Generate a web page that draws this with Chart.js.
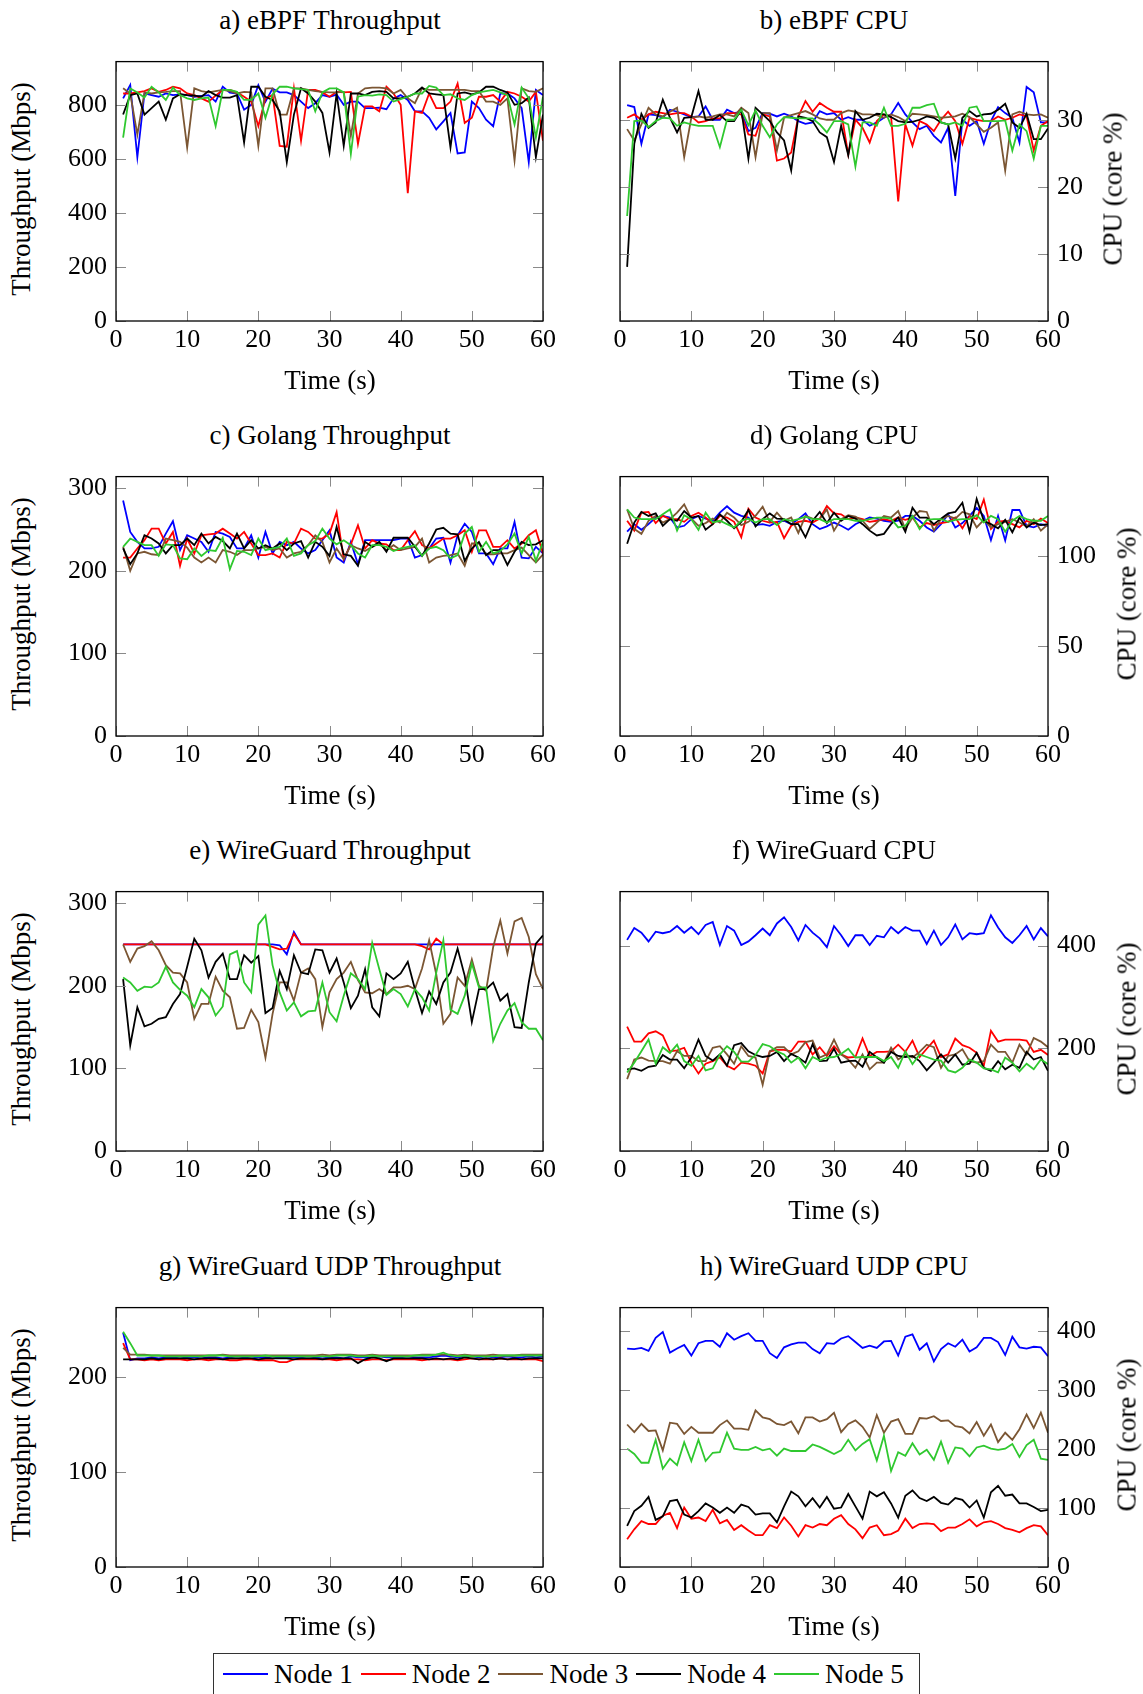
<!DOCTYPE html>
<html>
<head>
<meta charset="utf-8">
<script src="https://cdn.jsdelivr.net/npm/chart.js@4.4.0/dist/chart.umd.min.js"></script>
<style>
    body {
        margin: 0;
        width: 1143px;
        height: 1694px;
        position: relative;
        overflow: hidden;
        background: #fff;
        font-family: "Liberation Serif", "Times New Roman", serif;
        color: #000;
    }
    .panel { position: absolute; }
    .txt {
        position: absolute;
        font-size: 27px;
        line-height: 27px;
        white-space: nowrap;
        transform: translate(-50%, -50%);
    }
    .rot { transform: translate(-50%, -50%) rotate(-90deg); }
    #legend {
        position: absolute;
        left: 213px;
        top: 1653px;
        width: 707px;
        height: 42px;
        box-sizing: border-box;
        border: 1px solid #333;
        display: flex;
        align-items: center;
        padding-left: 9px;
        font-size: 27px;
    }
    #legend .sw { display: inline-block; width: 45px; height: 2px; margin-right: 6px; }
    #legend .lt { margin-right: 8px; }
</style>
</head>
<body>
<div id="legend"></div>
<script>
const NODES = ['Node 1', 'Node 2', 'Node 3', 'Node 4', 'Node 5'];
const COLORS = ['#0000ff', '#ff0000', '#7b5633', '#000000', '#2fc82f'];

const TIME = [1, 2, 3, 4, 5, 6, 7, 8, 9, 10, 11, 12, 13, 14, 15, 16, 17, 18, 19, 20,
    21, 22, 23, 24, 25, 26, 27, 28, 29, 30, 31, 32, 33, 34, 35, 36, 37, 38, 39, 40,
    41, 42, 43, 44, 45, 46, 47, 48, 49, 50, 51, 52, 53, 54, 55, 56, 57, 58, 59, 60];
const X_TICKS = [0, 10, 20, 30, 40, 50, 60];

// y tick labels per panel
const THR_TICKS_A = [0, 200, 400, 600, 800];
const CPU_TICKS_B = [0, 10, 20, 30];
const THR_TICKS_C = [0, 100, 200, 300];
const CPU_TICKS_D = [0, 50, 100];
const THR_TICKS_E = [0, 100, 200, 300];
const CPU_TICKS_F = [0, 200, 400];
const THR_TICKS_G = [0, 100, 200];
const CPU_TICKS_H = [0, 100, 200, 300, 400];

// a) eBPF throughput (Mbps)
const A_N1 = [824, 873, 606, 842, 836, 830, 842, 836, 839, 836, 830, 833, 836, 812, 867, 845, 842, 782, 800, 873, 812, 860, 846, 846, 836, 812, 788, 806, 836, 830, 838, 800, 812, 812, 788, 788, 790, 784, 824, 836, 818, 776, 776, 752, 709, 739, 770, 620, 624, 812, 788, 745, 721, 842, 842, 824, 788, 588, 855, 836];
const A_N2 = [842, 842, 846, 851, 861, 848, 855, 867, 861, 842, 836, 824, 812, 834, 855, 855, 846, 830, 812, 721, 824, 836, 648, 645, 861, 667, 855, 855, 846, 830, 848, 846, 848, 655, 794, 794, 776, 867, 842, 800, 473, 776, 770, 842, 788, 788, 812, 879, 733, 752, 830, 830, 836, 812, 848, 842, 830, 812, 848, 667];
const A_N3 = [861, 842, 690, 846, 842, 846, 848, 851, 851, 642, 861, 851, 846, 851, 855, 851, 842, 848, 846, 648, 861, 861, 764, 764, 861, 861, 855, 851, 848, 846, 846, 848, 685, 842, 861, 864, 864, 861, 842, 855, 824, 806, 861, 855, 855, 855, 855, 855, 855, 851, 851, 812, 812, 800, 824, 594, 861, 851, 848, 861];
const A_N4 = [764, 836, 842, 764, 788, 812, 745, 824, 839, 836, 834, 830, 851, 836, 827, 827, 836, 661, 867, 867, 830, 818, 776, 588, 764, 861, 842, 812, 770, 624, 842, 648, 842, 842, 836, 848, 851, 848, 824, 824, 830, 842, 864, 842, 839, 836, 642, 842, 846, 839, 846, 867, 867, 855, 846, 800, 806, 827, 606, 764];
const A_N5 = [679, 861, 846, 827, 867, 846, 818, 864, 836, 824, 818, 824, 827, 721, 855, 855, 848, 818, 818, 842, 752, 839, 867, 867, 861, 858, 855, 776, 846, 861, 861, 846, 618, 830, 836, 834, 839, 836, 812, 821, 830, 842, 842, 870, 864, 836, 839, 824, 818, 836, 846, 851, 855, 846, 836, 727, 864, 824, 679, 830];

// b) eBPF CPU (core %)
const B_N1 = [32.3, 32.0, 26.5, 30.9, 30.8, 30.4, 31.6, 31.3, 30.9, 30.5, 30.6, 32.1, 30.1, 30.1, 31.6, 31.1, 31.3, 28.4, 28.9, 31.1, 31.0, 30.6, 31.0, 30.6, 29.9, 29.5, 29.7, 31.4, 30.9, 31.1, 30.1, 30.5, 30.1, 30.1, 29.2, 29.7, 30.4, 30.9, 32.6, 30.9, 29.7, 28.7, 29.2, 27.7, 26.7, 28.9, 18.7, 30.1, 29.2, 29.9, 26.5, 29.9, 32.0, 31.1, 30.4, 26.7, 35.0, 34.2, 29.7, 29.7];
const B_N2 = [30.4, 30.9, 30.1, 30.9, 31.3, 31.1, 30.9, 31.1, 31.1, 30.6, 29.7, 29.9, 30.3, 30.3, 31.1, 31.1, 30.9, 27.9, 27.7, 30.9, 30.6, 24.0, 24.3, 25.2, 30.6, 32.9, 31.3, 32.6, 31.9, 31.3, 31.3, 24.9, 30.1, 28.9, 26.7, 29.9, 30.9, 30.6, 17.9, 29.4, 26.2, 29.9, 29.4, 28.4, 30.1, 31.3, 29.9, 26.5, 30.4, 30.1, 29.9, 29.9, 30.6, 30.1, 30.4, 30.9, 30.6, 25.5, 29.2, 29.9];
const B_N3 = [28.7, 27.0, 29.4, 31.9, 30.9, 30.6, 31.3, 31.9, 24.5, 30.4, 30.6, 30.4, 30.6, 30.9, 30.9, 30.6, 31.9, 31.1, 24.5, 31.1, 31.1, 25.5, 30.4, 30.8, 31.1, 31.4, 30.9, 30.3, 30.1, 30.1, 31.1, 31.5, 31.3, 30.9, 30.9, 30.8, 30.4, 30.9, 30.5, 29.9, 31.0, 30.9, 30.8, 30.6, 30.4, 30.5, 30.6, 31.0, 30.5, 29.4, 28.3, 28.9, 29.7, 22.5, 30.9, 31.3, 30.9, 30.8, 30.9, 30.4];
const B_N4 = [8.1, 26.5, 31.0, 28.9, 29.7, 33.1, 30.4, 28.2, 30.4, 30.5, 34.4, 30.1, 30.1, 30.8, 29.9, 29.9, 31.6, 24.3, 31.9, 30.9, 29.9, 28.2, 27.0, 22.5, 30.6, 30.4, 29.9, 28.2, 27.5, 23.8, 29.2, 24.8, 31.4, 30.1, 30.4, 31.0, 30.9, 30.5, 29.9, 29.7, 29.8, 30.1, 30.6, 30.4, 29.7, 29.4, 24.3, 30.4, 31.4, 30.6, 30.9, 31.0, 31.6, 32.5, 29.7, 28.9, 31.0, 27.2, 27.2, 28.8];
const B_N5 = [15.7, 29.9, 30.0, 29.0, 29.9, 30.4, 30.3, 29.2, 29.7, 29.4, 29.2, 29.2, 29.2, 26.0, 30.1, 30.1, 31.6, 29.3, 31.5, 29.2, 27.5, 29.4, 30.5, 30.4, 30.3, 30.3, 30.3, 29.4, 28.2, 29.9, 29.9, 29.4, 23.1, 29.7, 29.7, 29.2, 31.9, 29.2, 29.2, 29.5, 31.9, 31.9, 32.3, 32.5, 29.7, 29.4, 29.7, 29.2, 31.9, 32.1, 29.9, 29.9, 29.9, 30.0, 25.5, 29.4, 28.4, 24.3, 29.2, 29.2];

// c) Golang throughput (Mbps)
const C_N1 = [285, 247, 235, 227, 227, 229, 245, 260, 225, 243, 239, 235, 223, 247, 245, 241, 227, 227, 243, 216, 247, 221, 235, 231, 235, 227, 221, 225, 237, 249, 216, 210, 235, 208, 237, 237, 237, 237, 237, 239, 239, 216, 219, 227, 239, 240, 210, 243, 257, 247, 221, 221, 208, 227, 227, 259, 216, 215, 229, 221];
const C_N2 = [216, 216, 227, 237, 251, 251, 233, 247, 206, 239, 221, 243, 244, 245, 251, 245, 239, 247, 233, 219, 219, 221, 216, 235, 233, 251, 247, 239, 239, 245, 271, 214, 232, 255, 227, 237, 233, 232, 225, 225, 237, 248, 231, 227, 233, 239, 239, 243, 249, 223, 249, 249, 229, 229, 237, 227, 233, 243, 249, 221];
const C_N3 = [229, 200, 221, 223, 220, 219, 239, 237, 235, 228, 216, 210, 216, 210, 225, 223, 219, 225, 225, 227, 229, 225, 227, 216, 221, 223, 231, 243, 235, 210, 227, 214, 231, 227, 224, 229, 233, 225, 231, 225, 227, 229, 239, 210, 216, 218, 219, 221, 206, 233, 233, 220, 220, 221, 221, 225, 228, 219, 210, 220];
const C_N4 = [227, 208, 221, 243, 239, 233, 221, 231, 231, 239, 231, 245, 233, 241, 236, 227, 245, 227, 237, 227, 231, 227, 233, 225, 233, 236, 216, 235, 229, 218, 253, 220, 218, 206, 235, 229, 235, 223, 240, 240, 240, 229, 218, 233, 250, 252, 245, 244, 212, 227, 235, 219, 225, 225, 207, 223, 235, 231, 232, 237];
const C_N5 = [229, 239, 235, 231, 231, 218, 232, 231, 215, 214, 227, 218, 225, 224, 240, 202, 224, 223, 219, 239, 225, 227, 229, 239, 218, 221, 231, 236, 251, 239, 232, 237, 231, 221, 216, 231, 231, 229, 224, 227, 229, 231, 218, 227, 229, 225, 215, 219, 245, 253, 223, 235, 221, 224, 232, 245, 221, 241, 212, 235];

// d) Golang CPU (core %)
const D_N1 = [113.8, 118, 114.9, 118, 121.7, 122.6, 121.7, 116.2, 117.1, 120.8, 122.6, 121.1, 119.9, 124.4, 128, 124.4, 122.6, 121.7, 117.5, 118, 117.1, 119.3, 119.9, 118, 120.8, 124, 118, 115.3, 116.8, 118.9, 117.1, 114.9, 118, 119.9, 121.7, 121.1, 119.9, 119.3, 119.9, 122.6, 122.6, 119.9, 116.2, 113.8, 118, 123.5, 116.2, 118.6, 122.6, 127.1, 122.6, 109.1, 122.6, 108.9, 125.9, 125.9, 117.1, 116.2, 118, 117.1];
const D_N2 = [119.9, 114.4, 124.4, 124.8, 118.6, 122.6, 120.8, 120.8, 119.3, 122.6, 124.4, 121.7, 118, 122.6, 121.7, 119.3, 110.7, 126.6, 121.7, 119.9, 118.9, 119.3, 110.2, 117.1, 119.3, 119.9, 118.9, 121.1, 128.1, 124, 123.5, 120.8, 121.7, 120.8, 119.3, 119.9, 120.8, 119.9, 121.7, 120.4, 121.7, 116.2, 118.6, 117.5, 118.6, 119.3, 121.7, 115.7, 122.6, 120.8, 131.7, 115.3, 119.3, 119.9, 118, 116.2, 119.9, 118, 121.1, 118.6];
const D_N3 = [126.2, 115.3, 112.6, 119.9, 122.6, 118.9, 120.8, 124.4, 129, 121.1, 117.1, 118.6, 121.1, 118.9, 124.4, 121.7, 117.5, 119.3, 122.6, 127.7, 119.3, 124.4, 119.9, 121.7, 113.1, 122.6, 121.1, 120.8, 126.2, 114.4, 120.8, 123, 122.2, 119.9, 115.3, 118.9, 122.6, 121.7, 125.3, 115.3, 121.7, 125.3, 124.8, 114.4, 120.8, 122.6, 121.1, 124.8, 123.5, 116.2, 120.4, 116.2, 118, 119.3, 120.8, 118.9, 116.8, 120.8, 114.4, 118];
const D_N4 = [107.1, 118.9, 124.8, 122.6, 124, 117.1, 120.8, 119.9, 125.3, 121.7, 122.6, 114.9, 118, 123.5, 119.9, 115.7, 119.3, 125.9, 116.8, 120.8, 124, 121.1, 120.8, 118, 118, 110.7, 119.9, 124.8, 118.6, 124.4, 119.9, 122.6, 121.1, 118, 114.4, 111.7, 112.6, 118, 121.7, 113.8, 127.1, 121.7, 121.7, 118, 121.1, 124, 124.8, 129.9, 113.8, 132.1, 119.9, 118, 115.7, 120.4, 113.5, 121.7, 116.2, 118.9, 117.5, 118];
const D_N5 = [126.2, 121.7, 120.8, 120.8, 120.8, 123.5, 126.2, 114.4, 123, 120.8, 114.8, 124.4, 118.9, 119.9, 118, 116.2, 119.9, 121.1, 118.9, 120.8, 120.8, 117.5, 120.8, 119.9, 120.8, 122.2, 120.8, 120.8, 118.9, 120.8, 120.8, 120.8, 119.9, 119.9, 120.8, 121.7, 121.7, 121.1, 116.2, 117.1, 122.6, 115.3, 120.4, 120.8, 120.8, 119.3, 120.4, 120.8, 120.8, 123, 118.9, 122.6, 120.8, 113.8, 119.9, 122.6, 120.8, 119.9, 119.9, 122.6];

// e) WireGuard throughput (Mbps)
const E_N1 = [250, 250, 250, 250, 250, 250, 250, 250, 250, 250, 250, 250, 250, 250, 250, 250, 250, 250, 250, 250, 250, 250, 249, 238, 265, 250, 250, 250, 250, 250, 250, 250, 250, 250, 250, 250, 250, 250, 250, 250, 250, 250, 250, 250, 250, 250, 250, 250, 250, 250, 250, 250, 250, 250, 250, 250, 250, 250, 250, 250];
const E_N2 = [250, 250, 250, 250, 250, 250, 250, 250, 250, 250, 250, 250, 250, 250, 250, 250, 250, 250, 250, 250, 250, 247, 244, 245, 263, 250, 250, 250, 250, 250, 250, 250, 250, 250, 250, 250, 250, 250, 250, 250, 250, 250, 248, 244, 257, 250, 250, 250, 250, 250, 250, 250, 250, 250, 250, 250, 250, 250, 250, 250];
const E_N3 = [250, 229, 245, 248, 254, 243, 225, 216, 215, 204, 160, 178, 178, 211, 194, 186, 148, 149, 171, 156, 113, 166, 204, 204, 182, 216, 221, 208, 150, 192, 208, 216, 229, 207, 192, 191, 196, 190, 198, 198, 200, 196, 221, 255, 214, 154, 166, 210, 200, 232, 200, 194, 247, 279, 239, 278, 282, 259, 214, 196];
const E_N4 = [208, 128, 174, 151, 154, 160, 162, 178, 190, 223, 257, 243, 210, 229, 239, 208, 208, 237, 228, 236, 167, 173, 218, 196, 237, 216, 214, 244, 243, 216, 233, 204, 173, 188, 220, 174, 163, 215, 208, 215, 229, 196, 167, 193, 178, 204, 216, 245, 212, 156, 196, 196, 204, 182, 190, 150, 149, 204, 251, 261];
const E_N5 = [210, 204, 194, 199, 198, 204, 223, 204, 195, 188, 174, 196, 186, 164, 175, 238, 242, 204, 192, 274, 285, 225, 192, 170, 180, 163, 169, 170, 204, 168, 157, 188, 215, 208, 196, 252, 220, 189, 196, 190, 175, 196, 186, 170, 216, 255, 171, 166, 188, 227, 198, 198, 133, 154, 170, 179, 156, 148, 148, 134];

// f) WireGuard CPU (core %)
const F_N1 = [411, 434, 425, 408, 427, 424, 427, 438, 425, 436, 422, 440, 446, 401, 438, 429, 401, 408, 420, 433, 420, 443, 455, 436, 410, 440, 425, 414, 397, 438, 420, 399, 420, 420, 401, 419, 416, 436, 424, 436, 429, 429, 403, 429, 401, 416, 441, 412, 424, 422, 424, 459, 435, 416, 405, 420, 438, 412, 434, 418];
const F_N2 = [242, 213, 213, 229, 233, 225, 194, 196, 201, 172, 151, 170, 175, 182, 166, 159, 172, 170, 166, 151, 194, 197, 197, 194, 213, 213, 188, 202, 185, 204, 188, 182, 183, 219, 185, 193, 193, 194, 207, 193, 215, 183, 199, 215, 183, 188, 219, 206, 201, 191, 166, 234, 213, 217, 217, 217, 215, 193, 197, 187];
const F_N3 = [140, 178, 182, 176, 175, 175, 170, 194, 185, 185, 175, 175, 201, 204, 188, 170, 204, 185, 182, 129, 194, 202, 202, 188, 194, 212, 215, 182, 188, 217, 188, 178, 162, 188, 159, 172, 172, 201, 178, 188, 182, 193, 207, 202, 162, 185, 188, 198, 175, 172, 175, 207, 193, 193, 172, 207, 188, 220, 213, 202];
const F_N4 = [159, 161, 156, 164, 166, 187, 178, 178, 161, 182, 217, 185, 176, 188, 166, 206, 210, 194, 187, 183, 185, 193, 175, 189, 182, 172, 208, 175, 176, 199, 172, 175, 176, 164, 193, 182, 172, 193, 185, 183, 185, 175, 157, 172, 188, 172, 188, 168, 170, 191, 162, 156, 175, 159, 168, 162, 193, 178, 183, 156];
const F_N5 = [153, 172, 194, 217, 170, 202, 191, 207, 175, 166, 185, 157, 161, 188, 204, 193, 174, 174, 187, 208, 204, 194, 188, 172, 182, 161, 183, 176, 182, 183, 189, 199, 182, 183, 183, 183, 175, 183, 162, 194, 169, 188, 183, 178, 176, 157, 153, 162, 178, 172, 161, 159, 153, 182, 172, 155, 170, 159, 178, 169];

// g) WireGuard UDP throughput (Mbps)
const G_N1 = [247, 218, 220, 220, 221, 220, 221, 221, 220, 221, 221, 220, 221, 221, 220, 221, 222, 221, 220, 221, 221, 220, 221, 221, 221, 221, 222, 221, 220, 221, 221, 220, 222, 221, 221, 221, 222, 221, 221, 221, 222, 221, 221, 221, 222, 223, 222, 221, 222, 222, 221, 222, 221, 221, 222, 221, 221, 222, 221, 222];
const G_N2 = [236, 219, 219, 218, 219, 218, 219, 219, 219, 218, 219, 219, 218, 219, 219, 218, 218, 219, 219, 218, 218, 218, 216, 216, 219, 219, 219, 219, 219, 219, 218, 219, 219, 219, 218, 219, 219, 218, 219, 219, 219, 219, 218, 219, 219, 219, 219, 218, 219, 220, 219, 219, 219, 220, 219, 219, 219, 219, 219, 217];
const G_N3 = [231, 224, 224, 224, 223, 223, 223, 223, 223, 223, 223, 223, 223, 223, 224, 223, 223, 223, 223, 223, 223, 223, 223, 223, 223, 223, 223, 223, 224, 223, 224, 224, 224, 223, 223, 224, 223, 223, 223, 223, 223, 223, 224, 224, 224, 224, 224, 223, 224, 223, 223, 223, 224, 223, 223, 223, 224, 224, 224, 224];
const G_N4 = [219, 219, 219, 219, 220, 219, 220, 220, 220, 220, 219, 220, 220, 220, 219, 220, 220, 220, 220, 219, 220, 220, 220, 220, 219, 220, 220, 220, 219, 220, 220, 220, 220, 215, 219, 221, 220, 217, 220, 220, 220, 220, 220, 219, 220, 219, 220, 219, 221, 220, 219, 220, 219, 220, 219, 220, 219, 220, 220, 220];
const G_N5 = [248, 236, 223, 223, 223, 223, 222, 222, 222, 222, 222, 222, 223, 223, 223, 222, 222, 222, 222, 222, 223, 222, 222, 222, 222, 222, 222, 222, 222, 222, 223, 223, 223, 222, 222, 223, 222, 222, 222, 222, 222, 223, 223, 223, 224, 226, 223, 222, 223, 222, 222, 222, 222, 223, 223, 223, 223, 223, 223, 223];

// h) WireGuard UDP CPU (core %)
const H_N1 = [371, 370, 372, 367, 389, 399, 364, 371, 377, 359, 380, 384, 384, 374, 397, 386, 392, 397, 384, 384, 363, 355, 373, 378, 381, 381, 370, 363, 380, 379, 388, 392, 382, 372, 376, 372, 383, 384, 359, 391, 395, 369, 380, 349, 370, 380, 374, 386, 366, 373, 389, 389, 382, 360, 391, 373, 371, 374, 373, 358];
const H_N2 = [47, 64, 78, 73, 73, 87, 92, 66, 101, 82, 84, 78, 97, 74, 80, 63, 71, 62, 54, 54, 71, 66, 84, 70, 52, 71, 67, 73, 71, 82, 88, 73, 64, 49, 67, 71, 54, 56, 62, 82, 66, 73, 74, 73, 61, 67, 67, 73, 81, 69, 76, 78, 73, 66, 63, 59, 66, 71, 69, 54];
const H_N3 = [242, 229, 243, 231, 232, 198, 245, 243, 226, 238, 228, 228, 228, 241, 249, 235, 235, 233, 266, 254, 251, 243, 241, 247, 227, 254, 254, 247, 251, 262, 229, 243, 249, 238, 220, 258, 228, 247, 251, 226, 226, 253, 252, 256, 248, 249, 239, 237, 227, 246, 223, 242, 212, 228, 216, 234, 259, 236, 262, 228];
const H_N4 = [70, 95, 104, 119, 80, 86, 112, 114, 89, 84, 95, 108, 101, 92, 101, 92, 106, 102, 89, 91, 91, 76, 103, 128, 120, 103, 117, 101, 119, 99, 101, 124, 103, 82, 128, 120, 127, 108, 84, 121, 130, 117, 112, 119, 109, 106, 117, 114, 101, 113, 84, 127, 138, 121, 123, 108, 108, 102, 95, 97];
const H_N5 = [201, 192, 177, 177, 216, 167, 184, 173, 212, 180, 216, 180, 194, 195, 228, 201, 199, 199, 204, 198, 201, 189, 201, 197, 197, 197, 208, 204, 198, 192, 198, 216, 198, 209, 217, 181, 223, 163, 195, 189, 210, 191, 199, 182, 213, 177, 203, 201, 188, 203, 206, 201, 199, 201, 209, 187, 207, 216, 184, 182];

const PANELS = [
    { title: 'a) eBPF Throughput', yLabel: 'Throughput (Mbps)', side: 'left', row: 0, yMax: 960, yTicks: THR_TICKS_A, series: [A_N1, A_N2, A_N3, A_N4, A_N5] },
    { title: 'b) eBPF CPU', yLabel: 'CPU (core %)', side: 'right', row: 0, yMax: 38.8, yTicks: CPU_TICKS_B, series: [B_N1, B_N2, B_N3, B_N4, B_N5] },
    { title: 'c) Golang Throughput', yLabel: 'Throughput (Mbps)', side: 'left', row: 1, yMax: 314, yTicks: THR_TICKS_C, series: [C_N1, C_N2, C_N3, C_N4, C_N5] },
    { title: 'd) Golang CPU', yLabel: 'CPU (core %)', side: 'right', row: 1, yMax: 144.5, yTicks: CPU_TICKS_D, series: [D_N1, D_N2, D_N3, D_N4, D_N5] },
    { title: 'e) WireGuard Throughput', yLabel: 'Throughput (Mbps)', side: 'left', row: 2, yMax: 314, yTicks: THR_TICKS_E, series: [E_N1, E_N2, E_N3, E_N4, E_N5] },
    { title: 'f) WireGuard CPU', yLabel: 'CPU (core %)', side: 'right', row: 2, yMax: 505, yTicks: CPU_TICKS_F, series: [F_N1, F_N2, F_N3, F_N4, F_N5] },
    { title: 'g) WireGuard UDP Throughput', yLabel: 'Throughput (Mbps)', side: 'left', row: 3, yMax: 273.5, yTicks: THR_TICKS_G, series: [G_N1, G_N2, G_N3, G_N4, G_N5] },
    { title: 'h) WireGuard UDP CPU', yLabel: 'CPU (core %)', side: 'right', row: 3, yMax: 440.5, yTicks: CPU_TICKS_H, series: [H_N1, H_N2, H_N3, H_N4, H_N5] }
];

// page geometry
const ROW_TOP = [57, 472, 887, 1303];
const PLOT_H = 264;
const PLOT_W = 428;
const PLOT_LEFT = { left: 116, right: 620 };
const AXIS_W = 76;
const PAD_TOP = 20;
const X_AXIS_H = 45;
const SIDE_PAD = 16;

const TICK_FONT = { family: "'Liberation Serif', 'Times New Roman', serif", size: 26 };

// pgfplots style: black box and short inward grey ticks on all four sides
const pgfFrame = {
    id: 'pgfFrame',
    afterDatasetsDraw(chart) {
        const { ctx, chartArea: a, scales: { x, y } } = chart;
        ctx.save();
        ctx.strokeStyle = '#8a8a8a';
        ctx.lineWidth = 1;
        ctx.beginPath();
        x.ticks.forEach(t => {
            const px = Math.round(x.getPixelForValue(t.value)) + 0.5;
            ctx.moveTo(px, a.bottom); ctx.lineTo(px, a.bottom - 10);
            ctx.moveTo(px, a.top); ctx.lineTo(px, a.top + 10);
        });
        y.ticks.forEach(t => {
            const py = Math.round(y.getPixelForValue(t.value)) + 0.5;
            ctx.moveTo(a.left, py); ctx.lineTo(a.left + 10, py);
            ctx.moveTo(a.right, py); ctx.lineTo(a.right - 10, py);
        });
        ctx.stroke();
        ctx.strokeStyle = '#000';
        ctx.lineWidth = 1.3;
        ctx.strokeRect(a.left, a.top, a.right - a.left, a.bottom - a.top);
        ctx.restore();
    }
};

function addText(text, x, y, rotated) {
    const el = document.createElement('div');
    el.className = rotated ? 'txt rot' : 'txt';
    el.textContent = text;
    el.style.left = x + 'px';
    el.style.top = y + 'px';
    document.body.appendChild(el);
}

function makePanel(p) {
    const top = ROW_TOP[p.row];
    const plotLeft = PLOT_LEFT[p.side];
    const width = PLOT_W + AXIS_W + SIDE_PAD;
    const height = PLOT_H + PAD_TOP + X_AXIS_H;
    const left = p.side === 'left' ? plotLeft - AXIS_W : plotLeft - SIDE_PAD;

    const canvas = document.createElement('canvas');
    canvas.className = 'panel';
    canvas.width = width;
    canvas.height = height;
    canvas.style.left = left + 'px';
    canvas.style.top = (top - PAD_TOP) + 'px';
    canvas.style.width = width + 'px';
    canvas.style.height = height + 'px';
    document.body.appendChild(canvas);

    new Chart(canvas.getContext('2d'), {
        type: 'line',
        data: {
            datasets: p.series.map((vals, i) => ({
                label: NODES[i],
                data: vals.map((v, k) => ({ x: TIME[k], y: v })),
                borderColor: COLORS[i],
                borderWidth: 1.8,
                pointRadius: 0,
                fill: false,
                tension: 0,
                order: 4 - i
            }))
        },
        options: {
            responsive: false,
            animation: false,
            devicePixelRatio: 1,
            layout: {
                padding: {
                    top: PAD_TOP,
                    bottom: 0,
                    left: p.side === 'left' ? 0 : SIDE_PAD,
                    right: p.side === 'left' ? SIDE_PAD : 0
                }
            },
            plugins: { legend: { display: false }, tooltip: { enabled: false } },
            scales: {
                x: {
                    type: 'linear',
                    position: 'bottom',
                    min: 0,
                    max: 60,
                    grid: { display: false, drawTicks: false },
                    border: { display: false },
                    ticks: { font: TICK_FONT, color: '#000', padding: 4, maxRotation: 0, autoSkip: false },
                    afterBuildTicks: s => { s.ticks = X_TICKS.map(v => ({ value: v })); },
                    afterFit: s => { s.height = X_AXIS_H; }
                },
                y: {
                    type: 'linear',
                    position: p.side,
                    min: 0,
                    max: p.yMax,
                    grid: { display: false, drawTicks: false },
                    border: { display: false },
                    ticks: { font: TICK_FONT, color: '#000', padding: 9, autoSkip: false },
                    afterBuildTicks: s => { s.ticks = p.yTicks.map(v => ({ value: v })); },
                    afterFit: s => { s.width = AXIS_W; }
                }
            }
        },
        plugins: [pgfFrame]
    });

    const cx = plotLeft + PLOT_W / 2;
    addText(p.title, cx, top - 37, false);
    addText('Time (s)', cx, top + PLOT_H + 59, false);
    if (p.side === 'left') {
        addText(p.yLabel, 21, top + PLOT_H / 2, true);
    } else {
        addText(p.yLabel, p.row === 0 ? 1113 : 1127, top + PLOT_H / 2, true);
    }
}

PANELS.forEach(makePanel);

const legend = document.getElementById('legend');
NODES.forEach((name, i) => {
    const sw = document.createElement('span');
    sw.className = 'sw';
    sw.style.background = COLORS[i];
    const lt = document.createElement('span');
    lt.className = 'lt';
    lt.textContent = name;
    legend.appendChild(sw);
    legend.appendChild(lt);
});
</script>
</body>
</html>
